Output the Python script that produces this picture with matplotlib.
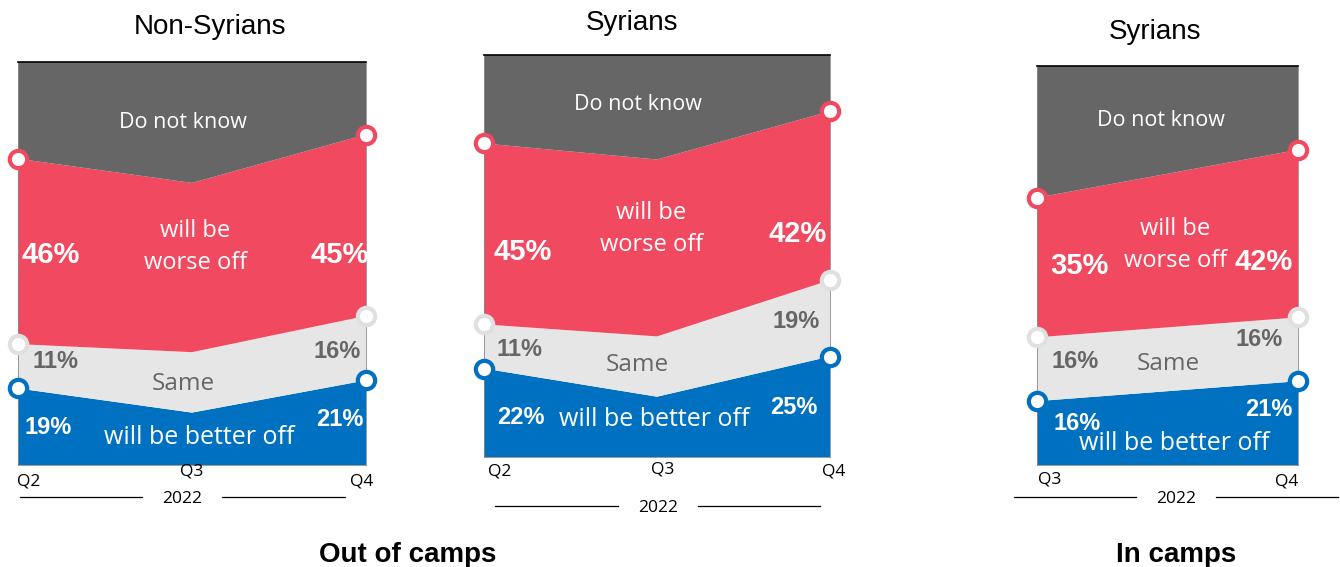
import matplotlib.pyplot as plt
from matplotlib.lines import Line2D

W, H = 1340, 567

# shares in percent, bottom to top: better, same, worse, do not know
ns_quarters = ['Q2', 'Q3', 'Q4']
ns_better = [19, 13, 21]
ns_same = [11, 15, 16]
ns_worse = [46, 42, 45]
ns_dnk = [24, 30, 18]

so_quarters = ['Q2', 'Q3', 'Q4']
so_better = [22, 15, 25]
so_same = [11, 15, 19]
so_worse = [45, 44, 42]
so_dnk = [22, 26, 14]

si_quarters = ['Q3', 'Q4']
si_better = [16, 21]
si_same = [16, 16]
si_worse = [35, 42]
si_dnk = [33, 21]

C_BETTER = '#0070C0'
C_SAME = '#E6E6E6'
C_WORSE = '#F04960'
C_DNK = '#666666'
C_SAME_EDGE = '#E0E0E0'
C_PCT_GRAY = '#666666'

def px(x, y):
    return x / W, 1 - y / H

def box(x0, y0, x1, y1):
    return [x0 / W, 1 - y1 / H, (x1 - x0) / W, (y1 - y0) / H]

fig = plt.figure(figsize=(W / 100, H / 100), dpi=100)

pfont = 'Liberation Sans'
cfont = 'Open Sans'

def panel(rect, better, same, worse, dnk, marked):
    ax = fig.add_axes(rect)
    x = list(range(len(better)))
    ax.stackplot(x, better, same, worse, dnk,
                 colors=[C_BETTER, C_SAME, C_WORSE, C_DNK], linewidth=0)
    ax.set_xlim(0, len(x) - 1)
    ax.set_ylim(0, 100)
    ax.set_xticks([])
    ax.set_yticks([])
    ax.spines['top'].set_color('black')
    ax.spines['top'].set_linewidth(1.2)
    for s in ['left', 'right', 'bottom']:
        ax.spines[s].set_color('#8a8a8a')
        ax.spines[s].set_linewidth(0.6)
    c1 = [better[i] for i in marked]
    c2 = [better[i] + same[i] for i in marked]
    c3 = [better[i] + same[i] + worse[i] for i in marked]
    xm = [x[i] for i in marked]
    for ys, col in [(c1, C_BETTER), (c2, C_SAME_EDGE), (c3, C_WORSE)]:
        ax.plot(xm, ys, 'o', ms=12.5, mfc='white', mec=col, mew=3,
                clip_on=False, zorder=5)
    return ax

panel(box(18, 62, 366, 465), ns_better, ns_same, ns_worse, ns_dnk, [0, 2])
panel(box(484, 55, 830, 457), so_better, so_same, so_worse, so_dnk, [0, 2])
panel(box(1037, 66, 1298, 465), si_better, si_same, si_worse, si_dnk, [0, 1])

def t(x, y, s, size, color='black', weight='normal', family=pfont, **kw):
    fig.text(*px(x, y + 2), s, ha='center', va='center', fontsize=size,
             color=color, fontweight=weight, family=family, **kw)

# titles
t(210, 25, 'Non-Syrians', 20)
t(632, 21, 'Syrians', 20)
t(1155, 30, 'Syrians', 20)

# category names
for (x, y) in [(183, 121), (638, 103), (1161, 119)]:
    t(x, y, 'Do not know', 15.5, color='white', family=cfont)
for (x, y) in [(195, 245), (651, 227), (1175, 243)]:
    t(x, y, 'will be\nworse off', 17, color='white', family=cfont, linespacing=1.45)
for (x, y) in [(183, 382), (637, 363), (1168, 362)]:
    t(x, y, 'Same', 17.5, color=C_PCT_GRAY, family=cfont)
for (x, y) in [(199, 436), (654, 418), (1174, 442)]:
    t(x, y, 'will be better off', 18, color='white', family=cfont)

# percentage labels
def pcts(worse_xy, same_xy, better_xy, worse, same, better, marked):
    for k, i in enumerate(marked):
        t(*worse_xy[k], f'{worse[i]}%', 21, color='white', weight='bold')
        t(*same_xy[k], f'{same[i]}%', 17, color=C_PCT_GRAY, weight='bold')
        t(*better_xy[k], f'{better[i]}%', 17, color='white', weight='bold')

pcts([(51, 253), (340, 253)], [(55, 360), (337, 350)], [(48, 426), (340, 417)],
     ns_worse, ns_same, ns_better, [0, 2])
pcts([(523, 250), (798, 232)], [(519, 348), (796, 320)], [(521, 415), (794, 405)],
     so_worse, so_same, so_better, [0, 2])
pcts([(1079, 264), (1264, 260)], [(1075, 360), (1259, 337)], [(1077, 421), (1269, 408)],
     si_worse, si_same, si_better, [0, 1])

# quarter labels
for (x, y), q in zip([(29, 479), (192, 470), (362, 479)], ns_quarters):
    t(x, y, q, 12.5, family=cfont)
for (x, y), q in zip([(500, 470), (663, 468), (834, 470)], so_quarters):
    t(x, y, q, 12.5, family=cfont)
for (x, y), q in zip([(1050, 477), (1287, 480)], si_quarters):
    t(x, y, q, 12.5, family=cfont)

# year axis
def year(x0, x1, x2, x3, y):
    for a, b in [(x0, x1), (x2, x3)]:
        fig.add_artist(Line2D([a / W, b / W], [1 - y / H, 1 - y / H],
                              color='black', lw=0.9, transform=fig.transFigure))
    t((x1 + x2) / 2, y, '2022', 12.5, family=cfont)

year(20, 142, 222, 345, 497)
year(495, 618, 698, 820, 506)
year(1014, 1136, 1216, 1338, 497)

t(408, 553, 'Out of camps', 20, weight='bold')
t(1176, 553, 'In camps', 20, weight='bold')

fig.savefig('out.png', dpi=100)
